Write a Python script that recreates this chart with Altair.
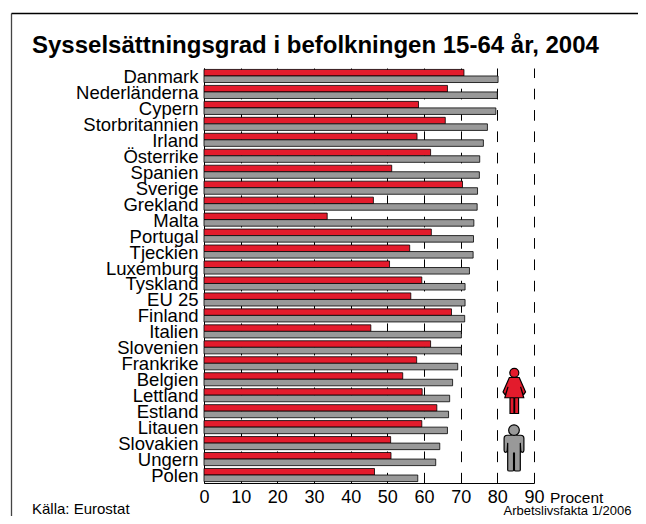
import altair as alt
import pandas as pd

countries = ["Danmark","Nederländerna","Cypern","Storbritannien","Irland","Österrike","Spanien","Sverige","Grekland","Malta","Portugal","Tjeckien","Luxemburg","Tyskland","EU 25","Finland","Italien","Slovenien","Frankrike","Belgien","Lettland","Estland","Litauen","Slovakien","Ungern","Polen"]
women = [70.9,66.4,58.5,65.8,58.1,61.8,51.2,70.5,46.2,33.6,62.0,56.1,50.6,59.4,56.4,67.5,45.5,61.8,58.0,54.2,59.5,63.5,59.4,50.9,51.0,46.5]
men = [80.2,80.0,79.6,77.3,76.2,75.2,75.1,74.6,74.5,73.6,73.5,73.4,72.4,71.2,71.2,71.1,70.2,70.2,69.2,67.8,67.0,66.7,66.4,64.3,63.2,58.3]
ticks = [0,10,20,30,40,50,60,70,80,90]

FONT = "Liberation Sans"
RED = "#e31b2c"
GRAY = "#999999"

rows = []
for c, w, m in zip(countries, women, men):
    rows.append({"land": c, "kön": "Kvinnor", "procent": w})
    rows.append({"land": c, "kön": "Män", "procent": m})
df = pd.DataFrame(rows)

x_scale = alt.Scale(domain=[0, 90], nice=False)
bars = alt.Chart(df).mark_bar(stroke="black", strokeWidth=0.8).encode(
    x=alt.X("procent:Q", scale=x_scale, axis=alt.Axis(
        values=ticks, title=None, grid=True, gridColor="black", gridWidth=1,
        gridDash=[10.67, 10.67], ticks=False, domainColor="black", domainWidth=1,
        labelFont=FONT, labelFontSize=18, labelColor="black", labelPadding=19,
        labelFlush=False, labelBaseline="alphabetic", labelOverlap=False)),
    y=alt.Y("land:N", sort=countries, scale=alt.Scale(paddingInner=0.18, paddingOuter=0.09),
            axis=alt.Axis(title=None, ticks=False, domainColor="black", grid=False,
                          labelFont=FONT, labelFontSize=18.5, labelColor="black",
                          labelPadding=6, labelLimit=200, labelOffset=1)),
    yOffset=alt.YOffset("kön:N", sort=["Kvinnor", "Män"], scale=alt.Scale(paddingInner=0, paddingOuter=0)),
    color=alt.Color("kön:N", scale=alt.Scale(domain=["Kvinnor", "Män"], range=[RED, GRAY]), legend=None),
)

WOMAN = ("M-0.2,-0.807A0.2,0.2 0 1 1 0.2,-0.807A0.2,0.2 0 1 1 -0.2,-0.807Z"
         "M-0.22,-0.6L0.22,-0.6L0.5,0.04L0.4,0.185L0.28,-0.185L0.42,0.3L-0.42,0.3L-0.28,-0.185L-0.4,0.185L-0.5,0.04Z"
         "M-0.19,0.3L-0.015,0.3L-0.015,1L-0.19,1Z"
         "M0.015,0.3L0.19,0.3L0.19,1L0.015,1Z")
MAN = ("M-0.237,-0.815A0.237,0.237 0 1 1 0.237,-0.815A0.237,0.237 0 1 1 -0.237,-0.815Z"
       "M-0.3,-0.59L0.3,-0.59Q0.44,-0.59 0.44,-0.45L0.44,0.08Q0.44,0.17 0.37,0.17Q0.3,0.17 0.3,0.08L0.28,-0.25L0.28,0.95Q0.28,1 0.2,1L0.08,1Q0.02,1 0.02,0.95L0.02,0.2L-0.02,0.2L-0.02,0.95Q-0.02,1 -0.08,1L-0.2,1Q-0.28,1 -0.28,0.95L-0.28,-0.25L-0.3,0.08Q-0.3,0.17 -0.37,0.17Q-0.44,0.17 -0.44,0.08L-0.44,-0.45Q-0.44,-0.59 -0.3,-0.59Z")

def icon(path, color, px, py):
    return alt.Chart(pd.DataFrame({"a": [1]})).mark_point(
        shape=path, filled=True, fill=color, stroke="black", strokeWidth=1.2, opacity=1, size=2025
    ).encode(x=alt.value(px), y=alt.value(py))

def label(text, px, py, size, weight="normal"):
    return alt.Chart(pd.DataFrame({"a": [1]})).mark_text(
        text=text, font=FONT, fontSize=size, fontWeight=weight, color="black",
        align="left", baseline="alphabetic"
    ).encode(x=alt.value(px), y=alt.value(py))

def rule(x1, x2, y1, y2, color):
    return alt.Chart(pd.DataFrame({"a": [1]})).mark_rule(color=color, strokeWidth=1.3).encode(
        x=alt.value(x1), x2=alt.value(x2), y=alt.value(y1), y2=alt.value(y2))

OX, OY = 204, 68  # plot origin in page pixels
chart = alt.layer(
    bars,
    icon(WOMAN, RED, 514.3 - OX, 391 - OY),
    icon(MAN, GRAY, 514 - OX, 448.5 - OY),
    rule(11.5 - OX, 11.5 - OX, 13.5 - OY, 530 - OY, "#444444"),
    rule(11.5 - OX, 660 - OX, 13.5 - OY, 13.5 - OY, "black"),
    label("Sysselsättningsgrad i befolkningen 15-64 år, 2004", 32 - OX, 53 - OY, 24, "bold"),
    label("Procent", 550 - OX, 502.5 - OY, 15.5),
    label("Källa: Eurostat", 32 - OX, 514 - OY, 15),
    label("Arbetslivsfakta 1/2006", 503.5 - OX, 514.5 - OY, 13),
).properties(
    width=330, height=415,
    autosize=alt.AutoSizeParams(type="none"),
    padding={"left": OX - 8, "top": OY - 8, "right": 104, "bottom": 33},
    background="white",
).configure_view(stroke=None)

chart.save("out.html", embed_options={"renderer": "svg", "actions": False})
